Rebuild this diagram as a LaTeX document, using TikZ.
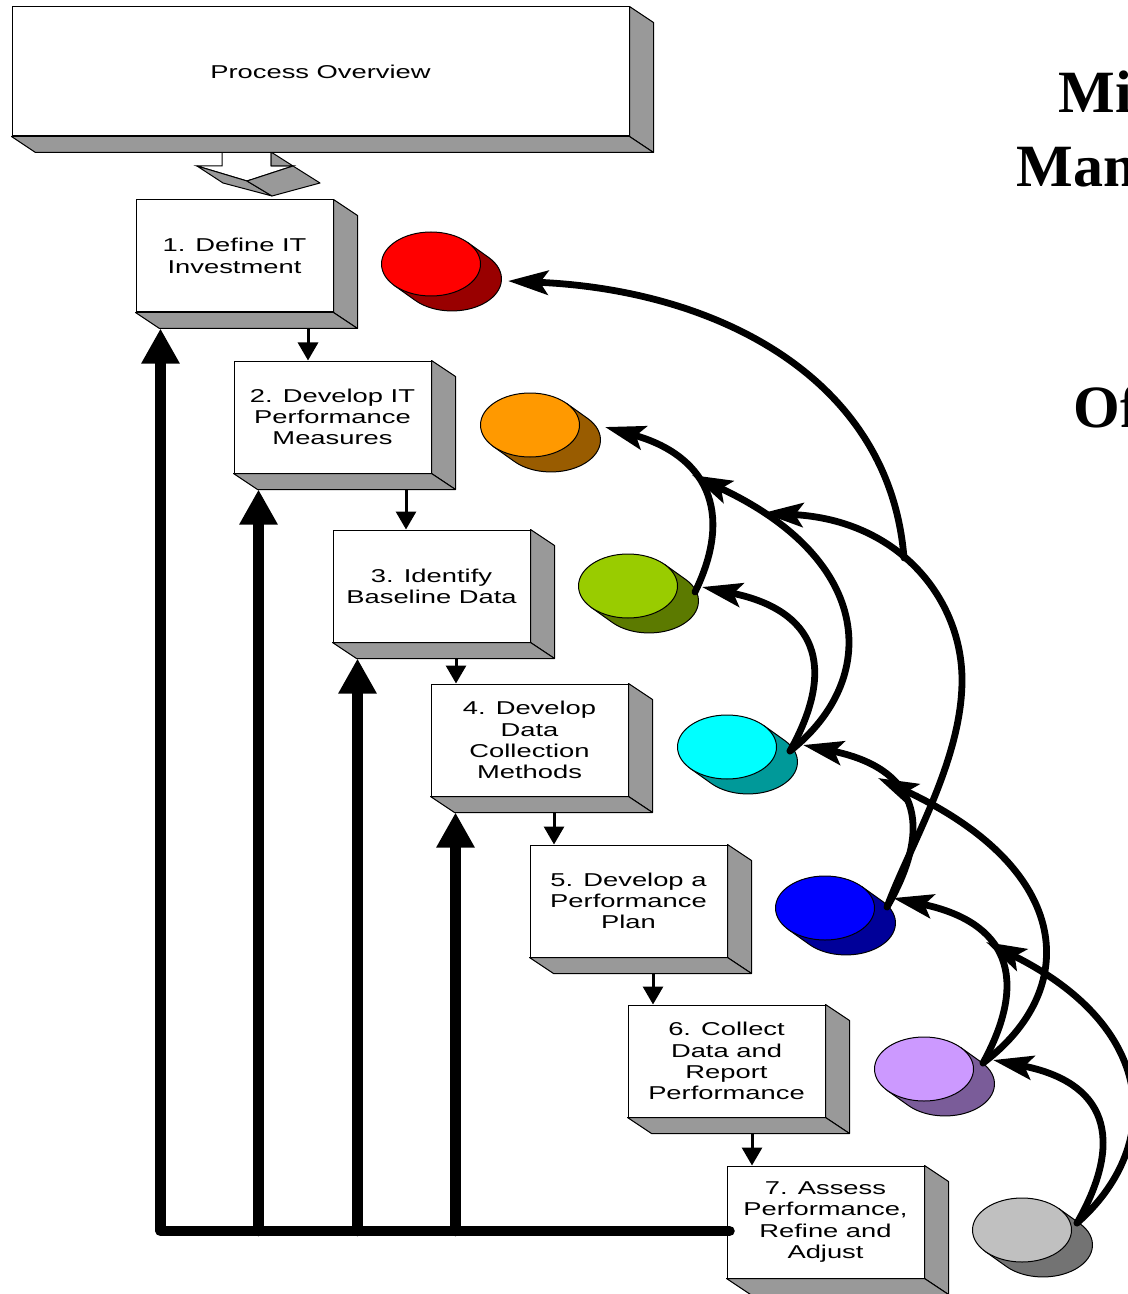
\documentclass[tikz,border=0pt]{standalone}
\usepackage{fontspec}
\usepackage{tikz}
\usetikzlibrary{arrows.meta,positioning}
\newfontfamily\boxfont[FakeStretch=1.47]{Liberation Sans}
\newfontfamily\titlefont{Liberation Serif}
\definecolor{sidegray}{HTML}{999999}
\definecolor{discred}{HTML}{FF0000}
\definecolor{discorange}{HTML}{FF9900}
\definecolor{discgreen}{HTML}{99CC00}
\definecolor{disccyan}{HTML}{00FFFF}
\definecolor{discblue}{HTML}{0000FF}
\definecolor{discpurple}{HTML}{CC99FF}
\definecolor{discgray}{HTML}{C0C0C0}
\tikzstyle{stepbox} = [draw, fill=white, line width=0.5pt, minimum width=98.5pt, minimum height=56pt, inner sep=0pt, align=center, font=\boxfont\fontsize{9.3}{10.65}\selectfont]
\tikzstyle{face} = [draw, fill=sidegray, line width=0.5pt, line join=round]
\tikzstyle{discline} = [draw, line width=0.5pt]
\tikzstyle{titletext} = [inner sep=0pt, anchor=base west, font=\titlefont\bfseries\fontsize{30}{36}\selectfont]
\tikzset{
  flowarrow/.style ={draw, line width=1.5pt, -{Triangle[length=9pt,width=10pt]}},
  feedarrow/.style ={draw, line width=5.25pt, line cap=round, line join=round, -{Triangle[length=17.5pt,width=18pt]}},
  linkarrow/.style ={draw, line width=3.4pt, line cap=round, -{Stealth[length=20pt,width=12pt,inset=4pt]}}
}
% gray right and bottom faces of a box node
\newcommand{\boxfaces}[1]{%
  \draw[face] (#1.north east) -- ++(24,16) -- ([shift={(24,16)}]#1.south east) -- (#1.south east) -- cycle;
  \draw[face] (#1.south west) -- (#1.south east) -- ([shift={(24,16)}]#1.south east) -- ([shift={(24,16)}]#1.south west) -- cycle;}
% disc: name, centre, colour
\newcommand{\drawdisc}[3]{%
  \coordinate (#1) at (#2);
  \draw[discline, fill=#3!60!black] ([shift={(36.7,-21.5)}]#1) -- ([shift={(57.7,-6.5)}]#1)
    arc[start angle=-42.1, end angle=137.9, x radius=49.5, y radius=32] -- ([shift={(-36.7,21.5)}]#1) -- cycle;
  \draw[discline, fill=#3] (#1) ellipse [x radius=49.5, y radius=32];}

\begin{document}
\begin{tikzpicture}[x=0.5pt,y=-0.5pt]
	\useasboundingbox (0,0) rectangle (1128,1294);
	\clip (0,0) rectangle (1128,1294);

	% block arrow under the overview
	\draw[line width=0.5pt, fill=white] (222,152) -- (222,166) -- (197,166) -- (247,181) -- (293,166) -- (271,166) -- (271,152);
	\draw[face] (271,152) -- (293,166) -- (271,166) -- cycle;
	\draw[face] (197,166) -- (223,183) -- (272,196) -- (247,181) -- cycle;
	\draw[face] (247,181) -- (272,196) -- (320,183) -- (293,166) -- cycle;

	\node[stepbox, minimum width=308.5pt, minimum height=64.5pt] (overview) at (320.5,71.5) {Process Overview};
	\boxfaces{overview}

	\node[stepbox] (b1) at (234.5,256) {1. Define IT\\Investment};
	\node[stepbox] (b2) at (332.5,417) {2. Develop IT\\Performance\\Measures};
	\node[stepbox] (b3) at (431.5,586) {3. Identify\\Baseline Data};
	\node[stepbox] (b4) at (529.5,740) {4. Develop\\Data\\Collection\\Methods};
	\node[stepbox] (b5) at (628.5,901) {5. Develop a\\Performance\\Plan};
	\node[stepbox] (b6) at (726.5,1061) {6. Collect\\Data and\\Report\\Performance};
	\node[stepbox] (b7) at (825.5,1222) {7. Assess\\Performance,\\Refine and\\Adjust};
	\boxfaces{b1}
	\boxfaces{b2}
	\boxfaces{b3}
	\boxfaces{b4}
	\boxfaces{b5}
	\boxfaces{b6}
	\boxfaces{b7}

	\draw[flowarrow] ([shift={(73.5,16)}]b1.south) -- ([shift={(-24.5,0)}]b2.north);
	\draw[flowarrow] ([shift={(73.5,16)}]b2.south) -- ([shift={(-25.5,0)}]b3.north);
	\draw[flowarrow] ([shift={(24.5,16)}]b3.south) -- ([shift={(-73.5,0)}]b4.north);
	\draw[flowarrow] ([shift={(24.5,16)}]b4.south) -- ([shift={(-74.5,0)}]b5.north);
	\draw[flowarrow] ([shift={(24.5,16)}]b5.south) -- ([shift={(-73.5,0)}]b6.north);
	\draw[flowarrow] ([shift={(25.5,16)}]b6.south) -- ([shift={(-73.5,0)}]b7.north);

	% feedback from step 7
	\coordinate (fb) at ([shift={(3,9)}]b7.west);
	\coordinate (c1) at ([shift={(25,16)}]b1.south west);
	\coordinate (c2) at ([shift={(25,16)}]b2.south west);
	\coordinate (c3) at ([shift={(25,16)}]b3.south west);
	\coordinate (c4) at ([shift={(25,16)}]b4.south west);
	\draw[feedarrow] (fb) -| (c1);
	\draw[feedarrow] (c2 |- fb) -- (c2);
	\draw[feedarrow] (c3 |- fb) -- (c3);
	\draw[feedarrow] (c4 |- fb) -- (c4);

	\drawdisc{d1}{431,264}{discred}
	\drawdisc{d2}{530,425}{discorange}
	\drawdisc{d3}{628,586}{discgreen}
	\drawdisc{d4}{727,747}{disccyan}
	\drawdisc{d5}{825,908}{discblue}
	\drawdisc{d6}{924,1069}{discpurple}
	\drawdisc{d7}{1022,1230}{discgray}

	\coordinate (d3out) at (695,592);
	\coordinate (d4out) at (790,751);
	\coordinate (d5out) at (887,907);
	\coordinate (d6out) at (983,1063);
	\coordinate (d7out) at (1077,1223);
	\coordinate (d5turn) at (962,680);
	\coordinate (join) at (904,558);
	\coordinate (t1) at (508,281);
	\coordinate (t2) at (605,427);
	\coordinate (t2b) at (692,475);
	\coordinate (t2c) at (763,513);
	\coordinate (t3) at (702,587);
	\coordinate (t4) at (803,745);
	\coordinate (t4b) at (878,778);
	\coordinate (t5) at (893,898);
	\coordinate (t5b) at (986,942);
	\coordinate (t6) at (993,1060);

	\draw[linkarrow] (d3out) .. controls (735,510) and (705,455) .. (t2);
	\draw[linkarrow] (d4out) .. controls (838,665) and (815,610) .. (t3);
	\draw[linkarrow] (d4out) .. controls (880,680) and (875,560) .. (t2b);
	\draw[linkarrow] (d5out) .. controls (936,822) and (915,768) .. (t4);
	\draw[linkarrow] (d5out) .. controls (910,845) and (962,760) .. (d5turn) .. controls (962,600) and (900,520) .. (t2c);
	\draw[linkarrow] (join) .. controls (890,380) and (720,290) .. (t1);
	\draw[linkarrow] (d6out) .. controls (1080,990) and (1075,870) .. (t4b);
	\draw[linkarrow] (d6out) .. controls (1030,977) and (1007,922) .. (t5);
	\draw[linkarrow] (d7out) .. controls (1126,1137) and (1105,1082) .. (t6);
	\draw[linkarrow] (d7out) .. controls (1160,1150) and (1163,1030) .. (t5b);

	\node[titletext] (mi) at (1058,112.7) {Mi};
	\node[titletext] (man) at (1016,186.7) {Man};
	\node[titletext] (of) at (1073,427) {Of};

\end{tikzpicture}
\end{document}
